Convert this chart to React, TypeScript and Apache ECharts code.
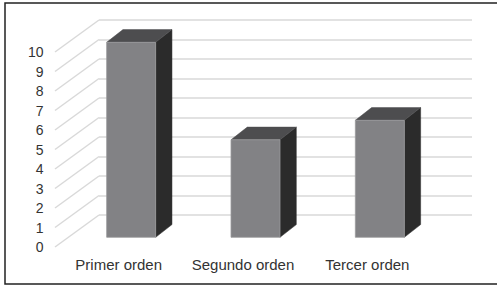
import React, { useEffect, useRef } from "react";
import * as echarts from "echarts";

const categories = ["Primer orden", "Segundo orden", "Tercer orden"];
const values = [10, 5, 6];
const yTicks = [0, 1, 2, 3, 4, 5, 6, 7, 8, 9, 10];

export default function App() {
  const ref = useRef<HTMLDivElement>(null);
  useEffect(() => {
    if (!ref.current) return;
    const chart = echarts.init(ref.current, undefined, { renderer: "svg" });
    const DX = 16.3;
    const DY = -12.7;
    const FRONT = 22.3;
    chart.setOption({
      animation: false,
      backgroundColor: "#ffffff",
      graphic: [
        {
          type: "rect",
          shape: { x: 5, y: 3, width: 520, height: 281 },
          style: { fill: "none", stroke: "#222222", lineWidth: 1.5 },
          z: 100,
        },
      ],
      grid: [
        { left: 99, right: 25, top: 20, bottom: 72 },
        { left: 56.5, right: 67.5, top: 52, bottom: 40 },
      ],
      xAxis: [
        {
          type: "category",
          gridIndex: 0,
          data: categories,
          axisLine: { show: false },
          axisTick: { show: false },
          axisLabel: { show: false },
        },
        {
          type: "category",
          gridIndex: 1,
          data: categories,
          axisLine: { show: false },
          axisTick: { show: false },
          axisLabel: {
            interval: 0,
            hideOverlap: false,
            margin: 10,
            color: "#333333",
            fontFamily: "Liberation Sans",
            fontSize: 15,
          },
        },
      ],
      yAxis: [
        {
          type: "value",
          gridIndex: 0,
          min: 0,
          max: 10,
          interval: 1,
          axisLine: { show: false },
          axisTick: { show: false },
          axisLabel: { show: false },
          splitLine: { lineStyle: { color: "#d9d9d9", width: 1.5 } },
        },
        {
          type: "value",
          gridIndex: 1,
          min: 0,
          max: 10,
          interval: 1,
          axisLine: { show: false },
          axisTick: { show: false },
          splitLine: { show: false },
          axisLabel: {
            margin: 13,
            color: "#333333",
            fontFamily: "Liberation Sans",
            fontSize: 14,
            formatter: (v: number) => (yTicks.includes(v) ? String(v) : ""),
          },
        },
      ],
      series: [
        {
          type: "custom",
          xAxisIndex: 0,
          yAxisIndex: 0,
          data: yTicks.map((v) => [0, v]),
          z: 1,
          renderItem: (params: any, api: any) => {
            const cs = params.coordSys;
            const p = api.coord([0, api.value(1)]);
            return {
              type: "line",
              shape: { x1: cs.x, y1: p[1], x2: cs.x - 44, y2: p[1] + 32 },
              style: { stroke: "#d9d9d9", lineWidth: 1.5 },
            };
          },
        },
        {
          type: "custom",
          xAxisIndex: 0,
          yAxisIndex: 0,
          data: values.map((v, i) => [i, v]),
          z: 5,
          renderItem: (params: any, api: any) => {
            const idx = api.value(0);
            const c = api.coord([idx, api.value(1)]);
            const b = api.coord([idx, 0]);
            const x0 = c[0] - 54.5;
            const x1 = c[0] - 5.5;
            const yT = c[1] + FRONT;
            const yB = b[1] + FRONT;
            return {
              type: "group",
              children: [
                {
                  type: "polygon",
                  shape: {
                    points: [
                      [x1, yT],
                      [x1 + DX, yT + DY],
                      [x1 + DX, yB + DY],
                      [x1, yB],
                    ],
                  },
                  style: { fill: "#2b2b2b", stroke: "#2b2b2b", lineWidth: 0.5 },
                },
                {
                  type: "polygon",
                  shape: {
                    points: [
                      [x0, yT],
                      [x0 + DX, yT + DY],
                      [x1 + DX, yT + DY],
                      [x1, yT],
                    ],
                  },
                  style: { fill: "#4d4d4f", stroke: "#4d4d4f", lineWidth: 0.5 },
                },
                {
                  type: "rect",
                  shape: { x: x0, y: yT, width: x1 - x0, height: yB - yT },
                  style: { fill: "#828285", stroke: "#9a9a9c", lineWidth: 0.8 },
                },
              ],
            };
          },
        },
      ],
    });
    return () => chart.dispose();
  }, []);
  return (
    <div
      ref={ref}
      style={{ position: "absolute", left: 0, top: 0, width: 497, height: 287 }}
    />
  );
}
